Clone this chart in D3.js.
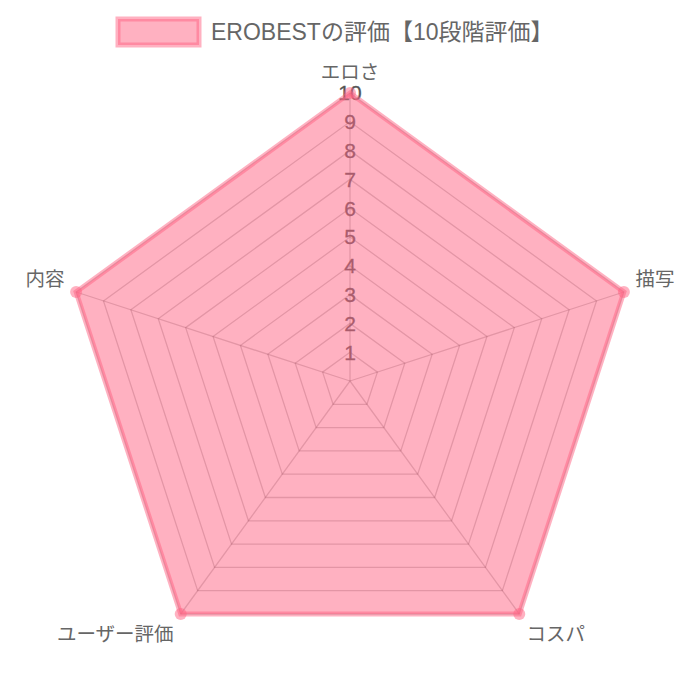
<!DOCTYPE html>
<html><head><meta charset="utf-8">
<script src="https://cdn.jsdelivr.net/npm/d3@7"></script>
<style>body{margin:0;background:#fff}svg{display:block}</style>
</head><body>
<svg id="c" width="700" height="700"></svg>
<script>
const categories = ["エロさ","描写","コスパ","ユーザー評価","内容"];
const values = [10,10,10,10,10];
const tickValues = [1,2,3,4,5,6,7,8,9,10];
const seriesName = "EROBESTの評価【10段階評価】";

const svg = d3.select("#c");
const cx = 350, cy = 381, R = 288;
const FONT = "'Liberation Sans','Noto Sans CJK JP',sans-serif";
const r = d3.scaleLinear().domain([0,10]).range([0,R]);
const ang = d3.scaleLinear().domain([0,categories.length]).range([0,2*Math.PI]);
const pt = (i,v)=>[cx + r(v)*Math.sin(ang(i)), cy - r(v)*Math.cos(ang(i))];

const g = svg.append("g");
// grid rings
tickValues.forEach(t=>{
  g.append("path")
   .attr("d", d3.line()(categories.map((c,i)=>pt(i,t))) + "Z")
   .attr("fill","none").attr("stroke","rgba(0,0,0,0.22)").attr("stroke-width",1.3);
});
// angle lines
categories.forEach((c,i)=>{
  const p = pt(i,10);
  g.append("line").attr("x1",cx).attr("y1",cy).attr("x2",p[0]).attr("y2",p[1])
   .attr("stroke","rgba(0,0,0,0.22)").attr("stroke-width",1.3);
});
// tick labels
tickValues.forEach(t=>{
  g.append("text").attr("x",cx).attr("y",cy - r(t)).attr("dy","0.35em")
   .attr("text-anchor","middle").attr("font-family",FONT).attr("font-size",21)
   .attr("fill","#555").attr("stroke","#555").attr("stroke-width",0.3).text(t);
});
// point labels
categories.forEach((c,i)=>{
  const a = ang(i)*180/Math.PI;
  const p = pt(i,10.42);
  let anchor = "middle";
  if (a>1 && a<179) anchor="start"; else if (a>181) anchor="end";
  let dy;
  if (a<90 || a>270) dy = -0.12; else dy = 0.88;
  g.append("text").attr("x",p[0]).attr("y",p[1]).attr("dy",dy+"em")
   .attr("text-anchor",anchor).attr("font-family",FONT).attr("font-size",19.5)
   .attr("fill","#666").text(c);
});
// data polygon
const poly = categories.map((c,i)=>pt(i,values[i]));
svg.append("path").attr("d", d3.line()(poly)+"Z")
  .attr("fill","rgba(255,99,132,0.5)").attr("stroke","rgba(255,99,132,0.5)")
  .attr("stroke-width",5).attr("stroke-linejoin","miter");
svg.selectAll("circle.pt").data(poly).join("circle")
  .attr("cx",d=>d[0]).attr("cy",d=>d[1]).attr("r",6)
  .attr("fill","rgba(255,99,132,0.5)");

// legend
const lg = svg.append("g");
lg.append("rect").attr("x",118).attr("y",19).attr("width",81).attr("height",26)
  .attr("fill","rgba(255,99,132,0.5)").attr("stroke","rgba(255,99,132,0.5)").attr("stroke-width",5);
lg.append("text").attr("x",211).attr("y",40).attr("font-family",FONT).attr("font-size",23)
  .attr("fill","#666").text(seriesName);
</script>
</body></html>
